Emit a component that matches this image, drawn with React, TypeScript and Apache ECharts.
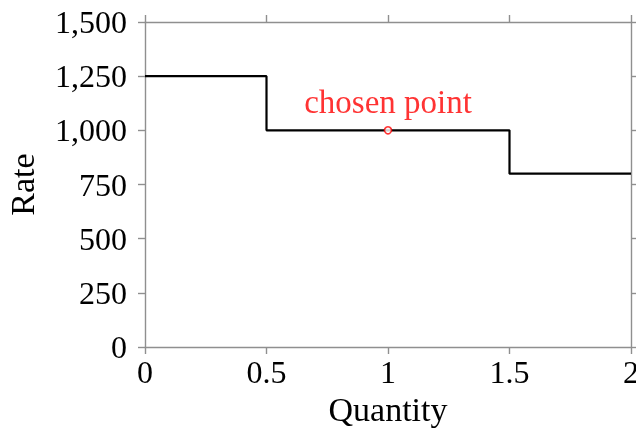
import React, { useEffect, useRef } from "react";
import * as echarts from "echarts";

const stepPoints: [number, number][] = [
  [0, 1250],
  [0.5, 1000],
  [1.5, 800],
  [2, 800],
];
const chosenPoint: [number, number] = [1, 1000];
const chosenLabel = "chosen point";
const xTicks = { min: 0, max: 2, interval: 0.5 };
const yTicks = { min: 0, max: 1500, interval: 250 };
const xName = "Quantity";
const yName = "Rate";

const FONT = "'Liberation Serif', 'Times New Roman', serif";
const GRAY = "#8f8f8f";

export default function App() {
  const ref = useRef<HTMLDivElement>(null);
  useEffect(() => {
    document.body.style.margin = "0";
    const chart = echarts.init(ref.current!, null, { renderer: "svg" });
    const axisLine = { show: true, onZero: false, lineStyle: { color: GRAY, width: 1.4 } };
    const axisTick = { show: true, inside: false, length: 7, lineStyle: { color: GRAY, width: 1.4 } };
    chart.setOption({
      animation: false,
      textStyle: { fontFamily: FONT },
      grid: { left: 145, right: 5, top: 22, bottom: 85, outerBoundsMode: "none", containLabel: false },
      xAxis: [
        {
          type: "value",
          ...xTicks,
          position: "bottom",
          name: xName,
          nameLocation: "middle",
          nameGap: 44,
          nameTextStyle: { fontFamily: FONT, fontSize: 34, color: "#000" },
          axisLine,
          axisTick,
          splitLine: { show: false },
          axisLabel: { fontFamily: FONT, fontSize: 32, color: "#000", margin: 9 },
        },
        {
          type: "value",
          ...xTicks,
          position: "top",
          axisLine,
          axisTick,
          splitLine: { show: false },
          axisLabel: { show: false },
        },
      ],
      yAxis: [
        {
          type: "value",
          ...yTicks,
          position: "left",
          name: yName,
          nameLocation: "middle",
          nameGap: 106,
          nameTextStyle: { fontFamily: FONT, fontSize: 34, color: "#000" },
          axisLine,
          axisTick,
          splitLine: { show: false },
          axisLabel: {
            fontFamily: FONT,
            fontSize: 32,
            color: "#000",
            margin: 18,
            formatter: (v: number) => v.toLocaleString("en-US"),
          },
        },
        {
          type: "value",
          ...yTicks,
          position: "right",
          axisLine,
          axisTick,
          splitLine: { show: false },
          axisLabel: { show: false },
        },
      ],
      series: [
        {
          type: "line",
          step: "end",
          data: stepPoints,
          xAxisIndex: 0,
          yAxisIndex: 0,
          showSymbol: false,
          symbol: "none",
          lineStyle: { color: "#000", width: 2.2 },
          z: 2,
        },
        {
          type: "scatter",
          data: [chosenPoint],
          xAxisIndex: 0,
          yAxisIndex: 0,
          symbol: "circle",
          symbolSize: 7,
          itemStyle: { color: "#fff", borderColor: "#ff0000", borderWidth: 1.6 },
          label: {
            show: true,
            position: "top",
            distance: 8,
            formatter: chosenLabel,
            color: "#ff0000",
            fontFamily: FONT,
            fontSize: 33,
          },
          z: 3,
        },
      ],
    });
    return () => chart.dispose();
  }, []);
  return <div ref={ref} style={{ width: 636, height: 432, position: "fixed", left: 0, top: 0 }} />;
}
